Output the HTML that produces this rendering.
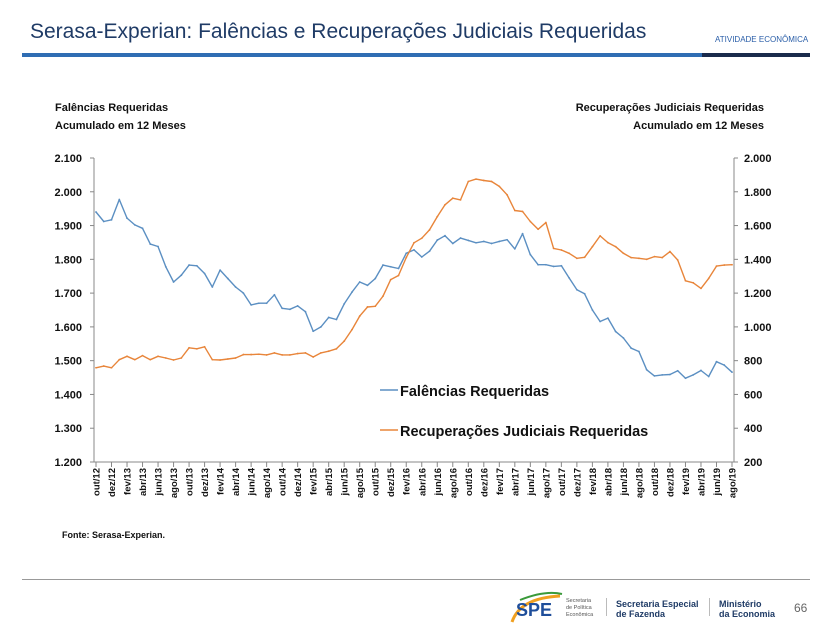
<!DOCTYPE html>
<html><head><meta charset="utf-8">
<style>
body{margin:0;width:818px;height:634px;background:#fff;overflow:hidden;font-family:"Liberation Sans",sans-serif;}
svg text{font-family:"Liberation Sans",sans-serif;}
</style></head>
<body>
<svg width="818" height="634">
<text x="30" y="38" font-size="21" fill="#1f3b66">Serasa-Experian: Falências e Recuperações Judiciais Requeridas</text>
<text x="715" y="42" font-size="8" fill="#2a5ea8">ATIVIDADE ECONÔMICA</text>
<rect x="22" y="53" width="680" height="4" fill="#2f6db3"/>
<rect x="702" y="53" width="108" height="4" fill="#1a2b4c"/>
<text x="55" y="111" font-size="11" font-weight="bold" fill="#111">Falências Requeridas</text>
<text x="55" y="129" font-size="11" font-weight="bold" fill="#111">Acumulado  em 12 Meses</text>
<text x="764" y="111" font-size="11" font-weight="bold" fill="#111" text-anchor="end">Recuperações Judiciais Requeridas</text>
<text x="764" y="129" font-size="11" font-weight="bold" fill="#111" text-anchor="end">Acumulado  em 12 Meses</text>
<g id="chart"></g>
<text x="62" y="538" font-size="9" font-weight="bold" fill="#111">Fonte: Serasa-Experian.</text>
<rect x="22" y="579" width="788" height="1" fill="#999"/>
<g>
<path d="M512 622 Q520 598 560 596" stroke="#f0a020" stroke-width="3" fill="none"/>
<path d="M520 600 Q545 590 562 594" stroke="#3a9a3a" stroke-width="2" fill="none"/>
<text x="516" y="616" font-size="18" font-weight="bold" fill="#1f4e9a">SPE</text>
<text x="566" y="602" font-size="5.5" fill="#555">Secretaria</text>
<text x="566" y="609" font-size="5.5" fill="#555">de Política</text>
<text x="566" y="616" font-size="5.5" fill="#555">Econômica</text>
</g>
<rect x="606" y="598" width="1" height="18" fill="#bbb"/>
<text x="616" y="607" font-size="9" font-weight="bold" fill="#1f3b66">Secretaria Especial</text>
<text x="616" y="617" font-size="9" font-weight="bold" fill="#1f3b66">de Fazenda</text>
<rect x="709" y="598" width="1" height="18" fill="#bbb"/>
<text x="719" y="607" font-size="9" font-weight="bold" fill="#1f3b66">Ministério</text>
<text x="719" y="617" font-size="9" font-weight="bold" fill="#1f3b66">da Economia</text>
<text x="794" y="612" font-size="12" fill="#666">66</text>
</svg>
<script>
const falencias=[1940,1912,1917,1977,1922,1902,1892,1845,1838,1778,1733,1753,1783,1781,1758,1718,1768,1743,1718,1700,1665,1670,1670,1695,1655,1652,1662,1645,1587,1600,1628,1622,1668,1703,1733,1723,1743,1783,1778,1773,1818,1828,1807,1824,1857,1870,1847,1863,1856,1849,1853,1847,1853,1858,1831,1876,1814,1784,1784,1779,1781,1745,1710,1698,1650,1616,1626,1586,1567,1537,1527,1473,1455,1458,1459,1470,1448,1458,1471,1453,1497,1487,1466];
const recuperacoes=[758,768,758,806,826,806,830,806,826,816,804,816,876,870,882,806,804,810,816,836,836,838,834,846,834,834,842,846,822,846,856,870,916,984,1064,1118,1122,1182,1280,1304,1410,1498,1525,1574,1653,1723,1762,1752,1861,1875,1867,1861,1832,1782,1689,1683,1624,1578,1618,1465,1455,1436,1406,1412,1475,1539,1499,1475,1436,1410,1406,1400,1416,1410,1446,1396,1273,1261,1228,1287,1360,1366,1368];
const leftTicks=[1200,1300,1400,1500,1600,1700,1800,1900,2000,2100];
const rightTicks=[200,400,600,800,1000,1200,1400,1600,1800,2000];
const monthNames=["jan","fev","mar","abr","mai","jun","jul","ago","set","out","nov","dez"];
const startMonth=9, startYear=12;
const NS="http://www.w3.org/2000/svg";
const g=document.getElementById('chart');
const X0=94,X1=734,YT=158,YB=462;
const n=falencias.length;
const xS=i=>X0+2+(X1-X0-4)*i/(n-1);
const yL=v=>YB-(v-1200)/900*(YB-YT);
const yR=v=>YB-(v-200)/1800*(YB-YT);
function el(t,a){const e=document.createElementNS(NS,t);for(const k in a)e.setAttribute(k,a[k]);g.appendChild(e);return e;}
let e=el('line',{x1:X0,y1:YT,x2:X0,y2:YB,stroke:'#888'});


e=el('line',{x1:X1,y1:YT,x2:X1,y2:YB,stroke:'#888'});


e=el('line',{x1:X0,y1:YB,x2:X1,y2:YB,stroke:'#888'});


leftTicks.forEach(v=>{const y=yL(v);el('line',{x1:X0-4,y1:y,x2:X0,y2:y,stroke:'#888'});
const t=el('text',{x:82,y:y+4,'font-size':11,'font-weight':'bold','text-anchor':'end',fill:'#111'});
t.textContent=v.toLocaleString('de-DE').replace(',','.');

});
rightTicks.forEach(v=>{const y=yR(v);el('line',{x1:X1,y1:y,x2:X1+4,y2:y,stroke:'#888'});
const t=el('text',{x:744,y:y+4,'font-size':11,'font-weight':'bold',fill:'#111'});
t.textContent=v>=1000?(Math.floor(v/1000)+'.'+String(v%1000).padStart(3,'0')):String(v);

});
for(let i=0;i<n;i+=2){const x=xS(i);el('line',{x1:x,y1:YB,x2:x,y2:YB+5,stroke:'#888'});
const m=(startMonth+i)%12, yr=startYear+Math.floor((startMonth+i)/12);
const t=el('text',{x:0,y:0,'font-size':9.5,'font-weight':'bold',fill:'#111','text-anchor':'end',transform:`translate(${x+3.5},${YB+6}) rotate(-90)`});
t.textContent=monthNames[m]+'/'+yr;

}
function series(vals,sc,col,name){
const d=vals.map((v,i)=>(i?'L':'M')+xS(i).toFixed(1)+' '+sc(v).toFixed(1)).join(' ');
const p=el('path',{d:d,fill:'none',stroke:col,'stroke-width':1.4,'stroke-linejoin':'round'});


vals.forEach((v,i)=>{el('circle',{cx:xS(i),cy:sc(v),r:0.9,fill:col});});}
series(falencias,yL,'#5b8fc2','falencias-line');
series(recuperacoes,yR,'#e8853a','recuperacoes-line');
e=el('line',{x1:380,y1:390,x2:398,y2:390,stroke:'#5b8fc2','stroke-width':1.5});


let t=el('text',{x:400,y:396,'font-size':14.5,'font-weight':'bold',fill:'#111'});t.textContent='Falências Requeridas';


e=el('line',{x1:380,y1:430,x2:398,y2:430,stroke:'#e8853a','stroke-width':1.5});


t=el('text',{x:400,y:436,'font-size':14.5,'font-weight':'bold',fill:'#111'});t.textContent='Recuperações Judiciais Requeridas';


</script>
</body></html>
